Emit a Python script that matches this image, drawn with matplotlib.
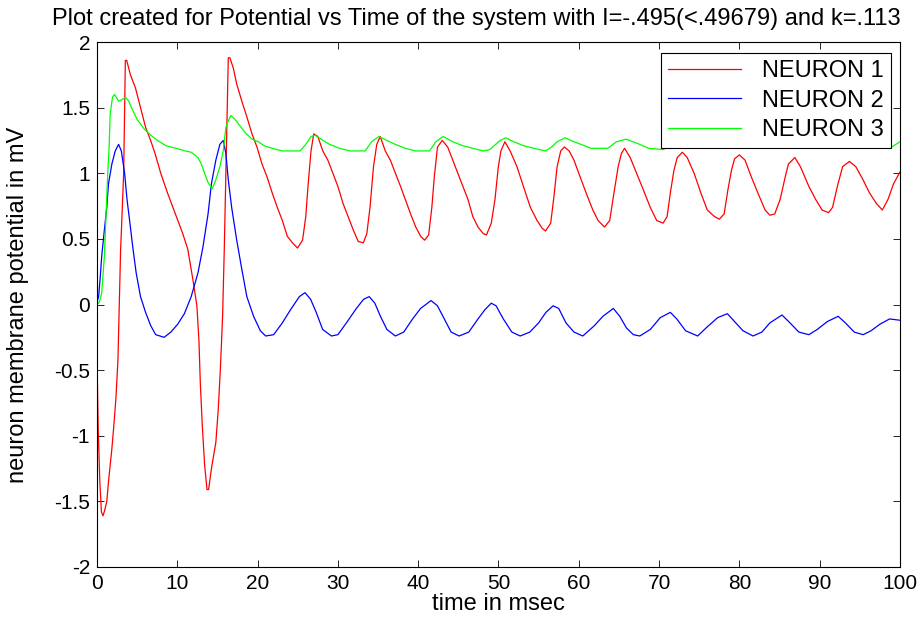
import matplotlib
matplotlib.use("Agg")
import matplotlib.pyplot as plt

plt.rcParams['font.family'] = ['Liberation Sans', 'DejaVu Sans']

# time (msec) / potential (mV)
t1 = [0, 0.15, 0.35, 0.55, 0.75, 0.95, 1.22, 1.43, 1.85, 2.06, 2.35, 2.61, 2.78, 2.94, 3.03,
      3.32, 3.45, 3.53, 3.7, 4.16, 4.79, 5.42, 6.05, 6.68, 7.23, 7.94, 8.78, 9.83, 10.68, 11.31,
      11.94, 12.44, 12.7, 12.86, 13.11, 13.4, 13.7, 13.9, 14.25, 14.8, 15.1, 15.38, 15.64, 15.85,
      16.14, 16.35, 16.55, 16.98, 17.4, 18.03, 18.66, 19.3, 19.92, 20.55, 21.19, 21.82, 22.45,
      23.08, 23.7, 24.34, 24.97, 25.6, 26.0, 26.3, 26.65, 26.99, 27.5, 28.12, 28.75, 29.38, 30.0,
      30.64, 31.27, 31.9, 32.53, 33.17, 33.6, 34.0, 34.43, 34.84, 35.27, 35.9, 36.53, 37.16, 37.8,
      38.4, 39.05, 39.7, 40.3, 40.8, 41.3, 41.7, 42.0, 42.4, 43.0, 43.67, 44.3, 44.93, 45.56, 46.2,
      46.8, 47.45, 48.1, 48.5, 49.1, 49.56, 49.98, 50.3, 50.8, 51.45, 52.3, 53.1, 53.97, 54.8,
      55.45, 55.86, 56.5, 56.9, 57.3, 57.75, 58.2, 58.8, 59.4, 60.3, 61.1, 61.75, 62.4, 63.2, 63.85,
      64.3, 64.9, 65.3, 65.7, 66.4, 67.2, 68.06, 68.9, 69.7, 70.5, 71.0, 71.4, 71.84, 72.26, 72.9,
      73.5, 74.36, 75.2, 76.0, 76.9, 77.5, 78.1, 78.56, 79.0, 79.4, 80.0, 80.7, 81.5, 82.3, 83.2,
      83.8, 84.4, 85.07, 85.7, 86.1, 86.9, 87.6, 88.65, 89.5, 90.3, 91.1, 91.6, 92.2, 92.85, 93.7,
      94.5, 95.4, 96.2, 97.06, 97.8, 98.5, 99.2, 100]
v1 = [-0.42, -0.95, -1.35, -1.58, -1.61, -1.57, -1.5, -1.35, -1.1, -0.95, -0.72, -0.42, 0.0, 0.42, 0.55,
      1.0, 1.5, 1.86, 1.86, 1.75, 1.65, 1.5, 1.35, 1.25, 1.15, 1.0, 0.85, 0.68, 0.54, 0.42,
      0.19, -0.01, -0.28, -0.59, -0.92, -1.22, -1.41, -1.41, -1.25, -1.05, -0.8, -0.47, -0.09, 0.42,
      1.25, 1.88, 1.88, 1.8, 1.68, 1.55, 1.43, 1.3, 1.2, 1.07, 0.97, 0.85, 0.74,
      0.64, 0.52, 0.47, 0.43, 0.49, 0.67, 0.92, 1.17, 1.3, 1.28, 1.17, 1.1, 1.0, 0.9,
      0.77, 0.67, 0.57, 0.48, 0.47, 0.54, 0.74, 1.05, 1.22, 1.28, 1.17, 1.1, 1.0, 0.9,
      0.8, 0.69, 0.59, 0.52, 0.49, 0.53, 0.74, 0.97, 1.2, 1.25, 1.2, 1.1, 1.0, 0.9, 0.8,
      0.67, 0.59, 0.54, 0.53, 0.62, 0.8, 1.05, 1.17, 1.24, 1.17, 1.05, 0.9, 0.74, 0.64,
      0.58, 0.56, 0.62, 0.82, 1.05, 1.17, 1.2, 1.17, 1.1, 0.95, 0.82, 0.72, 0.64, 0.59, 0.64,
      0.82, 1.05, 1.15, 1.19, 1.12, 1.0, 0.87, 0.74, 0.64, 0.62, 0.67, 0.85, 1.02, 1.12, 1.16,
      1.12, 1.0, 0.85, 0.72, 0.67, 0.65, 0.69, 0.87, 1.02, 1.11, 1.14, 1.1, 0.97, 0.85, 0.72,
      0.68, 0.69, 0.8, 0.97, 1.07, 1.12, 1.05, 0.9, 0.8, 0.72, 0.7, 0.74, 0.9, 1.05, 1.09,
      1.05, 0.95, 0.85, 0.77, 0.72, 0.8, 0.92, 1.01]

t2 = [0, 0.2, 0.38, 0.59, 0.92, 1.22, 1.43, 1.85, 2.27, 2.69, 3.03, 3.44, 3.74, 4.16, 4.45, 4.88,
      5.42, 6.05, 6.68, 7.31, 8.36, 9.2, 10.05, 10.88, 11.73, 12.57, 13.2, 13.83, 14.25, 14.8, 15.3,
      15.72, 16.05, 16.35, 16.77, 17.4, 18.03, 18.66, 19.5, 20.34, 21.0, 22.0, 23.08, 24.1, 25.2,
      25.9, 26.6, 27.3, 28.1, 29.2, 30.0, 31.06, 32.3, 33.2, 33.9, 34.6, 35.3, 36.1, 37.16, 38.2,
      39.3, 40.3, 41.6, 42.4, 43.25, 44.1, 45.1, 46.3, 47.45, 48.3, 49.1, 49.7, 50.6, 51.66, 52.7,
      53.9, 55.0, 55.9, 56.8, 57.5, 58.4, 59.4, 60.5, 61.96, 63.0, 64.3, 65.1, 65.95, 66.8, 67.6,
      68.9, 70.15, 71.4, 72.2, 73.3, 74.8, 76.0, 77.3, 78.5, 79.4, 80.45, 81.7, 82.8, 83.8, 85.3,
      86.3, 87.4, 88.65, 89.7, 90.95, 92.3, 93.2, 94.3, 95.4, 96.4, 97.5, 98.7, 100]
v2 = [0.02, 0.06, 0.19, 0.37, 0.57, 0.74, 0.92, 1.07, 1.17, 1.22, 1.17, 1.0, 0.8, 0.59, 0.44, 0.24,
      0.06, -0.06, -0.16, -0.23, -0.25, -0.21, -0.15, -0.07, 0.06, 0.24, 0.44, 0.69, 0.92, 1.1, 1.22,
      1.25, 1.15, 0.95, 0.74, 0.49, 0.27, 0.06, -0.09, -0.2, -0.24, -0.23, -0.14, -0.04, 0.06,
      0.09, 0.04, -0.06, -0.19, -0.24, -0.23, -0.14, -0.03, 0.04, 0.06, 0.01, -0.09, -0.19, -0.24, -0.21,
      -0.11, -0.03, 0.03, -0.01, -0.11, -0.21, -0.24, -0.21, -0.11, -0.04, 0.01, -0.01, -0.11, -0.21, -0.24,
      -0.21, -0.14, -0.06, -0.01, -0.03, -0.14, -0.21, -0.24, -0.16, -0.09, -0.03, -0.09, -0.18, -0.23, -0.24,
      -0.19, -0.1, -0.06, -0.11, -0.2, -0.24, -0.17, -0.1, -0.07, -0.13, -0.2, -0.24, -0.21, -0.14, -0.08,
      -0.14, -0.21, -0.23, -0.19, -0.13, -0.09, -0.14, -0.21, -0.23, -0.2, -0.15, -0.11, -0.12]

t3 = [0, 0.3, 0.59, 0.92, 1.13, 1.34, 1.51, 1.64, 1.93, 2.18, 2.69, 3.1, 3.53, 3.95, 4.37, 5.0,
      5.84, 6.68, 7.53, 8.58, 9.83, 11.0, 11.73, 12.57, 13.0, 13.4, 13.83, 14.34, 14.8, 15.3, 15.72,
      16.05, 16.35, 16.68, 17.19, 17.82, 18.45, 19.3, 20.1, 20.8, 21.8, 23.1, 25.3, 26.0, 26.65,
      27.15, 27.9, 28.97, 30.2, 31.5, 33.4, 34.2, 35.1, 36.1, 37.16, 38.4, 39.7, 41.4, 42.2, 43.1,
      44.3, 45.56, 46.8, 48.1, 48.9, 50.2, 50.9, 51.9, 53.1, 54.4, 55.86, 56.6, 57.3, 58.3, 59.4,
      60.7, 61.5, 63.6, 64.7, 65.9, 67.2, 68.7, 70.5, 71.8, 72.9, 74.2, 75.6, 77.8, 78.8, 80.0,
      81.2, 82.6, 85.0, 85.8, 86.9, 88.2, 89.5, 91.8, 92.6, 93.7, 95.0, 96.2, 98.7, 100]
v3 = [0.0, 0.02, 0.09, 0.37, 0.69, 1.0, 1.2, 1.45, 1.58, 1.6, 1.55, 1.56, 1.58, 1.55, 1.49, 1.41,
      1.34, 1.29, 1.25, 1.21, 1.19, 1.17, 1.16, 1.12, 1.07, 1.0, 0.93, 0.88, 0.95, 1.05, 1.17,
      1.35, 1.4, 1.44, 1.41, 1.36, 1.31, 1.26, 1.24, 1.21, 1.19, 1.17, 1.17, 1.22, 1.28,
      1.29, 1.26, 1.22, 1.19, 1.17, 1.17, 1.24, 1.28, 1.25, 1.22, 1.19, 1.17, 1.17, 1.24, 1.28,
      1.24, 1.21, 1.19, 1.17, 1.18, 1.25, 1.27, 1.24, 1.21, 1.19, 1.17, 1.2, 1.24, 1.27, 1.24,
      1.21, 1.19, 1.19, 1.24, 1.26, 1.23, 1.19, 1.18, 1.22, 1.26, 1.22, 1.19, 1.19, 1.22, 1.26,
      1.22, 1.19, 1.19, 1.22, 1.26, 1.22, 1.19, 1.19, 1.22, 1.26, 1.22, 1.19, 1.19, 1.24]

labels = ['NEURON 1', 'NEURON 2', 'NEURON 3']
xticks = list(range(0, 101, 10))
yticks = [-2, -1.5, -1, -0.5, 0, 0.5, 1, 1.5, 2]
ytick_labels = ['-2', '-1.5', '-1', '-0.5', '0', '0.5', '1', '1.5', '2']

W, H = 923, 619
L, R, T, B = 97, 900, 42, 567
fig = plt.figure(figsize=(W/100, H/100), dpi=100)
ax = fig.add_axes([L/W, 1 - B/H, (R-L)/W, (B-T)/H])

ax.plot(t1, v1, color='#ff0000', lw=0.9, label=labels[0])
ax.plot(t2, v2, color='#0000ff', lw=0.9, label=labels[1])
ax.plot(t3, v3, color='#00ff00', lw=0.9, label=labels[2])

ax.set_xlim(0, 100)
ax.set_ylim(-2, 2)
ax.set_xticks(xticks)
ax.set_yticks(yticks)
ax.set_yticklabels(ytick_labels)
ax.tick_params(direction='in', length=5, width=0.6, top=True, right=True, labelsize=15, pad=5)
for s in ax.spines.values():
    s.set_linewidth(0.8)

fig.text(476/W, 1 - 19/H,
         'Plot created for Potential vs Time of the system with I=-.495(<.49679) and k=.113',
         fontsize=17, ha='center', va='center')
ax.set_xlabel('time in msec', fontsize=17, labelpad=0)
ax.set_ylabel('neuron membrane potential in mV', fontsize=17)
ax.yaxis.set_label_coords(-(L - 29)/(R - L), 0.5)

leg = ax.legend(loc='upper right', bbox_to_anchor=(1 - 9/(R-L), 1 - 11/(B-T)), borderaxespad=0,
                fancybox=False, framealpha=1, edgecolor='black', fontsize=17,
                handlelength=3.1, handletextpad=0.9, labelspacing=0.32, borderpad=0.3)
leg.get_frame().set_linewidth(0.8)

fig.savefig('out.png', dpi=100)
